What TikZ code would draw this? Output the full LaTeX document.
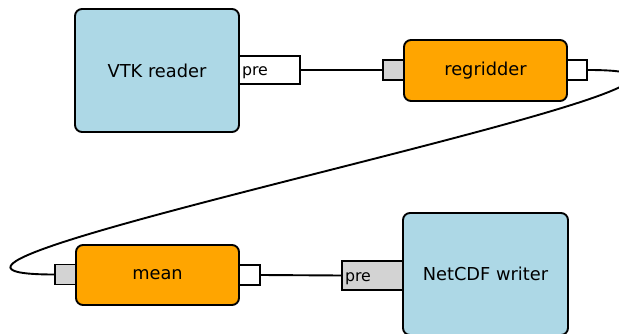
\documentclass[tikz,border=0pt]{standalone}
\usepackage{fontspec}
\setmainfont{DejaVu Sans}
\definecolor{lblue}{RGB}{173,216,230}
\definecolor{orng}{RGB}{255,165,0}
\definecolor{lgray}{RGB}{211,211,211}
\tikzset{
  box/.style={draw=black, line width=1.9pt, rounded corners=7pt, inner sep=0pt,
    font=\fontsize{17.8}{20}\selectfont},
  srcbox/.style={box, fill=lblue},
  filt/.style={box, fill=orng},
  port/.style={draw=black, line width=1.9pt, inner sep=0pt, minimum width=20.5pt, minimum height=20pt},
  inport/.style={port, fill=lgray},
  outport/.style={port, fill=white},
  prebox/.style={draw=black, line width=1.9pt, inner sep=0pt, minimum width=61pt, minimum height=28.5pt,
    text width=55pt, text height=12pt, text depth=0pt, align=left, font=\fontsize{15.8}{18}\selectfont},
  wire/.style={line width=1.9pt}
}
\begin{document}
\begin{tikzpicture}[x=1pt,y=-1pt]
\useasboundingbox (0,0) rectangle (619,334);
\clip (0,0) rectangle (619,334);
% VTK reader
\node[srcbox, minimum width=164pt, minimum height=123pt] (vtk) at (157,70.5) {VTK reader};
\node[prebox, fill=white] (pre1) at (269.5,70) {pre};
% regridder
\node[inport] (rin) at (393.5,70) {};
\node[outport] (rout) at (577,70) {};
\node[filt, minimum width=163pt, minimum height=61pt] (regrid) at (485.5,70.5) {regridder};
% mean
\node[inport] (min) at (65.5,274.5) {};
\node[outport] (mout) at (249.5,275) {};
\node[filt, minimum width=163pt, minimum height=60pt] (mean) at (157.5,275) {mean};
% NetCDF writer
\node[srcbox, minimum width=165pt, minimum height=122pt] (nc) at (485.5,274) {NetCDF writer};
\node[prebox, fill=lgray] (pre2) at (372.5,275.5) {pre};
% wires
\draw[wire] (pre1.east) -- (rin.west);
\draw[wire] (rout.east) .. controls +(270,0) and +(-270,0) .. (min.west);
\draw[wire] (mout.east) -- (pre2.west);
\end{tikzpicture}
\end{document}
